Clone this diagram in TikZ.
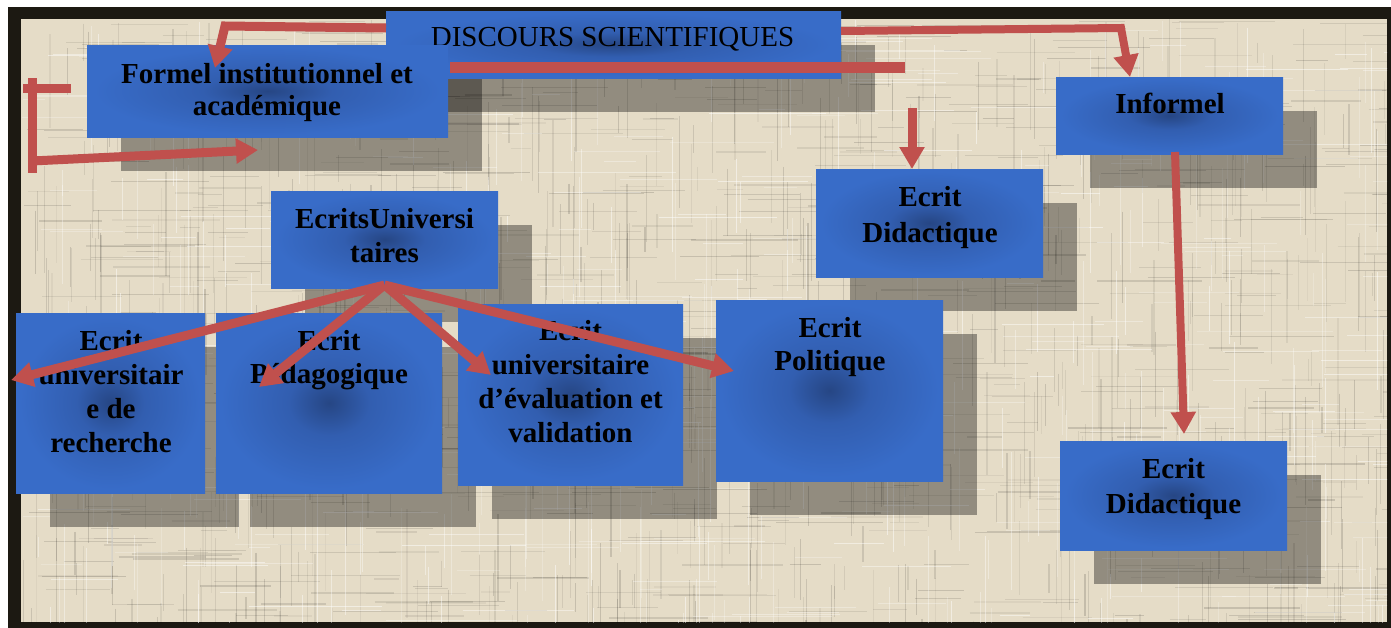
\documentclass[tikz,border=0pt]{standalone}
\usepackage{fontspec}
\setmainfont{Liberation Serif}
\usetikzlibrary{arrows.meta}
\definecolor{beige}{RGB}{229,220,199}
\definecolor{framec}{RGB}{28,25,18}
\definecolor{myred}{RGB}{192,80,77}
\definecolor{bedge}{RGB}{56,108,200}
\definecolor{bmid}{RGB}{50,94,176}
\definecolor{bcenter}{RGB}{38,70,132}
\pgfdeclareradialshading{boxshade}{\pgfpoint{0bp}{0bp}}{color(0bp)=(bcenter); color(9bp)=(bmid); color(24bp)=(bedge); color(50bp)=(bedge)}
\pgfdeclarelayer{bg}
\pgfdeclarelayer{shadow}
\pgfsetlayers{bg,shadow,main}
\tikzset{
  shadowfill/.style={fill=black, fill opacity=0.36},
  bluebox/.style={shading=boxshade, inner sep=0pt, outer sep=0pt, draw=none},
  btext/.style={anchor=north, align=center, inner sep=0pt, text=black, font=\bfseries\fontsize{29}{34}\selectfont},
  redline/.style={draw=myred, line width=9pt},
  redarrow/.style={redline, -{Triangle[width=24pt,length=22pt]}}
}
\newcommand\mkbox[5]{%
  \begin{pgfonlayer}{shadow}\fill[shadowfill] (#2+34,#3+34) rectangle (#4+34,#5+34);\end{pgfonlayer}
  \node[bluebox, minimum width={(#4-#2)*1pt}, minimum height={(#5-#3)*1pt}] (#1) at ({(#2+#4)/2},{(#3+#5)/2}) {};}
\begin{document}
\begin{tikzpicture}[x=1pt,y=-1pt]
\useasboundingbox (0,0) rectangle (1391,627);
\begin{pgfonlayer}{bg}
  \fill[white] (0,0) rectangle (1391,627);
  \fill[framec] (8,7) rectangle (1400,640);
  \fill[beige] (21,19) rectangle (1387,622);
  \begin{scope}
  \clip (21,19) rectangle (1387,622);
  \pgfmathsetseed{4242}
  \foreach \i in {1,...,700}{%
    \pgfmathsetmacro\xx{21+1366*rnd}\pgfmathsetmacro\yy{19+603*rnd}%
    \pgfmathsetmacro\ll{20+90*rnd}\pgfmathsetmacro\oo{0.04+0.10*rnd}%
    \draw[line width=1.2pt, draw=black, draw opacity=\oo] (\xx,\yy)--(\xx,\yy+\ll);}
  \foreach \i in {1,...,700}{%
    \pgfmathsetmacro\xx{21+1366*rnd}\pgfmathsetmacro\yy{19+603*rnd}%
    \pgfmathsetmacro\ll{20+90*rnd}\pgfmathsetmacro\oo{0.04+0.10*rnd}%
    \draw[line width=1.2pt, draw=black, draw opacity=\oo] (\xx,\yy)--(\xx+\ll,\yy);}
  \foreach \i in {1,...,300}{%
    \pgfmathsetmacro\xx{21+1366*rnd}\pgfmathsetmacro\yy{19+603*rnd}%
    \pgfmathsetmacro\ll{20+120*rnd}\pgfmathsetmacro\oo{0.2+0.3*rnd}%
    \draw[line width=1pt, draw=white, draw opacity=\oo] (\xx,\yy)--(\xx,\yy+\ll);}
  \foreach \i in {1,...,300}{%
    \pgfmathsetmacro\xx{21+1366*rnd}\pgfmathsetmacro\yy{19+603*rnd}%
    \pgfmathsetmacro\ll{20+120*rnd}\pgfmathsetmacro\oo{0.2+0.3*rnd}%
    \draw[line width=1pt, draw=white, draw opacity=\oo] (\xx,\yy)--(\xx+\ll,\yy);}
  \end{scope}
\end{pgfonlayer}

% boxes
\mkbox{disc}{386}{11}{841}{78}
\node[anchor=base, inner sep=0pt, font=\fontsize{29}{34}\selectfont] (disc-t) at (612.5,46) {DISCOURS SCIENTIFIQUES};
\mkbox{formel}{87}{45}{448}{137}
\node[btext, font=\bfseries\fontsize{29}{32}\selectfont] (formel-t) at (267,63) {Formel institutionnel et\\académique};
\mkbox{informel}{1056}{77}{1283}{154}
\node[btext] (informel-t) at (1170,93) {Informel};
\mkbox{did1}{816}{169}{1043}{277}
\node[btext, font=\bfseries\fontsize{29}{36}\selectfont] (did1-t) at (930,186) {Ecrit\\Didactique};
\mkbox{univ}{271}{191}{498}{288}
\node[btext] (univ-t) at (384.5,208) {EcritsUniversi\\taires};
\mkbox{rech}{16}{313}{205}{493}
\node[btext] (rech-t) at (111,330) {Ecrit\\universitair\\e de\\recherche};
\mkbox{peda}{216}{313}{442}{493}
\node[btext, font=\bfseries\fontsize{29}{33}\selectfont] (peda-t) at (329,330) {Ecrit\\Pédagogique};
\mkbox{eval}{458}{304}{683}{485}
\node[btext] (eval-t) at (570.5,320) {Ecrit\\universitaire\\d’évaluation et\\validation};
\mkbox{poli}{716}{300}{943}{481}
\node[btext, font=\bfseries\fontsize{29}{33}\selectfont] (poli-t) at (830,317) {Ecrit\\Politique};
\mkbox{did2}{1060}{441}{1287}{550}
\node[btext, font=\bfseries\fontsize{29}{35}\selectfont] (did2-t) at (1173.5,458) {Ecrit\\Didactique};

% free ends
\coordinate (barL) at (450,67);
\coordinate (barR) at (905,67);
\coordinate (dropS) at (912,108);
\coordinate (bkA) at (23,88);
\coordinate (bkB) at (71,88);
\coordinate (bkTop) at (32,78);
\coordinate (bkBot) at (32,173);
\coordinate (bkS) at (32,161);
\coordinate (bkTip) at (258,150);
\coordinate (leftBend) at (225,26);
\coordinate (rightBend) at (1121,28);

% connectors
\draw[redarrow] ([yshift=-17pt]disc.north west) -- (leftBend) -- ([xshift=128pt,yshift=-23pt]formel.north west);
\draw[redarrow, line width=8pt] ([yshift=-20pt]disc.north east) -- (rightBend) -- ([xshift=74pt]informel.north west);
\draw[redline, line width=11pt] (barL) -- (barR);
\draw[redarrow] (dropS) -- ([xshift=96pt]did1.north west);
\draw[redline] (bkA) -- (bkB);
\draw[redline] (bkTop) -- (bkBot);
\draw[redarrow] (bkS) -- (bkTip);
\draw[redarrow] ([yshift=3pt]univ.south) -- ([xshift=-5pt,yshift=-67pt]rech.north west);
\draw[redarrow] ([yshift=3pt]univ.south) -- ([xshift=43pt,yshift=-74pt]peda.north west);
\draw[redarrow] ([yshift=3pt]univ.south) -- ([xshift=33pt,yshift=-71pt]eval.north west);
\draw[redarrow] ([yshift=3pt]univ.south) -- ([xshift=18pt,yshift=-71pt]poli.north west);
\draw[redarrow, line width=8pt] ([xshift=119pt,yshift=2pt]informel.south west) -- ([xshift=124pt,yshift=7pt]did2.north west);
\end{tikzpicture}
\end{document}
